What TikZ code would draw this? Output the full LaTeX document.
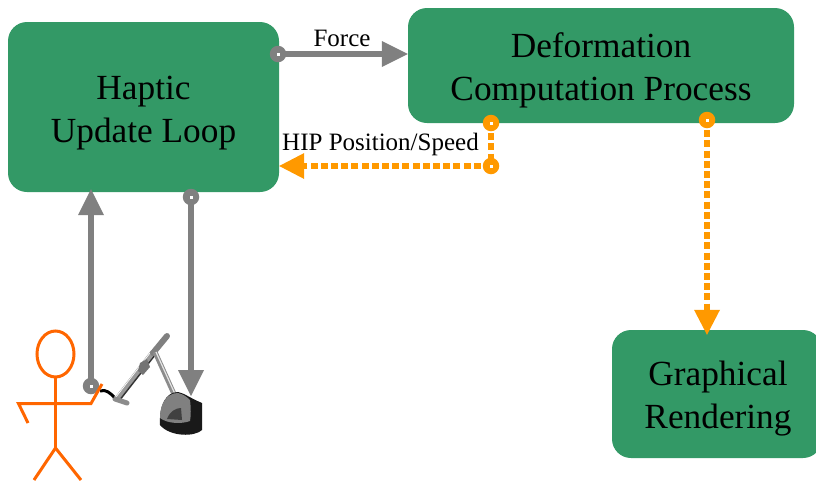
\documentclass[tikz,border=0pt]{standalone}
\usepackage{fontspec}
\setmainfont{Liberation Serif}
\usetikzlibrary{arrows.meta,positioning}
\definecolor{boxgreen}{HTML}{339966}
\definecolor{hipgray}{HTML}{808080}
\definecolor{hiporange}{HTML}{FF9900}
\definecolor{manorange}{HTML}{FF6600}
\tikzset{
  x=1pt,y=-1pt,
  procbox/.style={fill=boxgreen,rounded corners=19pt,draw=none,inner sep=0pt},
  boxtext/.style={align=center,inner sep=0pt,font=\fontsize{35.3}{43}\selectfont},
  grayline/.style={draw=hipgray,line width=6.5pt,-{Triangle[length=26pt,width=26pt,line width=0pt,fill=hipgray]}},
  orangeline/.style={draw=hiporange,line width=6pt,dash pattern=on 7pt off 3.2pt,-{Triangle[length=25pt,width=26pt,line width=0pt,fill=hiporange]}},
  orangeplain/.style={draw=hiporange,line width=6pt,dash pattern=on 7pt off 3.2pt},
  startdot/.style={circle,minimum size=16.5pt,inner sep=0pt,fill=#1,draw=none},
  centre/.style={fill=white,minimum size=3pt,inner sep=0pt,draw=none},
  lbl/.style={inner sep=0pt,font=\fontsize{25}{28}\selectfont},
  man/.style={draw=manorange,line width=3pt,line join=miter},
}
\begin{document}
\begin{tikzpicture}
\useasboundingbox (0,0) rectangle (816,480);
% boxes
\node[procbox,minimum width=271pt,minimum height=170pt] (haptic) at (143.5,107) {};
\node[boxtext] (hapticT) at (143.5,113) {Haptic\\Update Loop};
\node[procbox,minimum width=386pt,minimum height=115pt] (deform) at (601,65.5) {};
\node[boxtext] (deformT) at (601,70) {Deformation\\Computation Process};
\node[procbox,minimum width=210pt,minimum height=128pt] (render) at (717,394) {};
\node[boxtext] (renderT) at (718,399) {Graphical\\Rendering};
% anchors of connectors
\coordinate (forceS) at (278,54);
\coordinate (forceE) at (deform.west |- forceS);
\coordinate (hipS) at (491,123);
\coordinate (hipM) at (491,166);
\coordinate (hipE) at (haptic.east |- hipM);
\coordinate (gfxS) at (707,120);
\coordinate[yshift=-5pt] (gfxE) at (render.north -| gfxS);
\coordinate (upS) at (91,386);
\coordinate (upE) at (91,189);
\coordinate (downS) at (191,197);
\coordinate (downE) at (191,396);
% device
\draw[black!40,line width=5pt] (116,400) -- (153,352);
\draw[black!80,line width=1.5pt] (119,401) -- (155,355);
\draw[white,line width=.7pt] (116,397) -- (150,353);
\draw[black!50,line width=6pt,line cap=round] (153,353) -- (167,336);
\draw[black!45,line width=5pt] (155,352) -- (174,394);
\draw[black!10,line width=1.2pt] (156,352) -- (175,394);
\draw[black!45,line width=5pt,line cap=round] (115,399) -- (127,403);
\draw[black,line width=3pt] (100,391) .. controls (106,389) and (110,393) .. (114,397);
\fill[black!55] (140,363) -- (147,359) -- (150,367) -- (143,375) -- (138,371) -- cycle;
\fill[black!90] (160,425) .. controls (159,405) and (166,392) .. (178,392) .. controls (184,393) and (190,398) .. (202,403) -- (202,430) .. controls (195,437) and (170,437) .. (160,425) -- cycle;
\fill[black!50] (160,418) .. controls (160,403) and (167,393) .. (178,393) .. controls (183,394) and (187,397) .. (190,400) .. controls (191,408) and (191,416) .. (190,421) .. controls (182,424) and (168,424) .. (160,418) -- cycle;
\fill[black!75] (167,419) .. controls (170,411) and (176,408) .. (181,408) -- (182,420) -- cycle;
% gray connectors
\draw[grayline] (forceS) -- (forceE);
\draw[grayline] (upS) -- (upE);
\draw[grayline] (downS) -- (downE);
\node[startdot=hipgray] (forceDot) at (forceS) {};
\node[centre] at (forceS) {};
\node[startdot=hipgray] (upDot) at (upS) {};
\node[centre] at (upS) {};
\node[startdot=hipgray] (downDot) at (downS) {};
\node[centre] at (downS) {};
% orange connectors
\draw[orangeplain] (hipS) -- (hipM);
\draw[orangeline] (hipM) -- (hipE);
\draw[orangeline] (gfxS) -- (gfxE);
\node[startdot=hiporange] (hipDot) at (hipS) {};
\node[centre] at (hipS) {};
\node[startdot=hiporange] (hipMid) at (hipM) {};
\node[centre] at (hipM) {};
\node[startdot=hiporange] (gfxDot) at (gfxS) {};
\node[centre] at (gfxS) {};
% labels
\node[lbl] (forceL) at (342,38) {Force};
\node[lbl] (hipL) at (380.5,144.5) {HIP Position/Speed};
% stick man
\draw[man] (55.5,354) ellipse (18.5pt and 23pt);
\draw[man] (55.5,377) -- (55.5,448);
\draw[man] (28,423) -- (18.5,403.5) -- (91,403.5) -- (102,384);
\draw[man] (34,480) -- (55.5,448) -- (81,480);
\end{tikzpicture}
\end{document}
